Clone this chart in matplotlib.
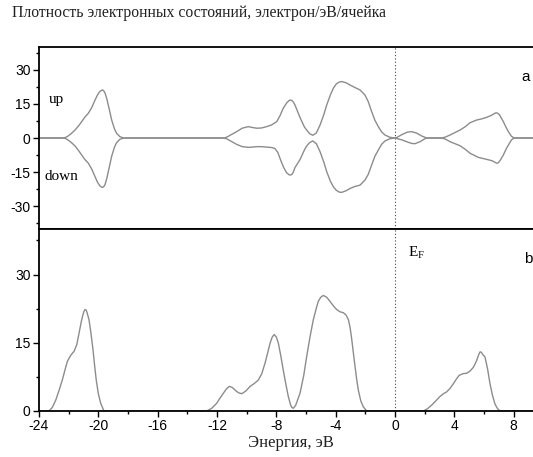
import matplotlib
matplotlib.use("Agg")
import matplotlib.pyplot as plt
from matplotlib.ticker import MultipleLocator

# ---- data ----
# panel a: spin-up DOS
up_e = [-24, -22.3, -22.1, -21.85, -21.57, -21.3, -21.12, -20.9, -20.67, -20.45, -20.22, -20.05,
        -19.9, -19.8, -19.73, -19.65, -19.55, -19.43, -19.25,
        -19.1, -18.9, -18.76, -18.55, -18.3, -11.5, -11.3, -10.95, -10.67, -10.3, -9.89, -9.6, -9.32,
        -9.0, -8.65, -8.3, -7.97, -7.75, -7.53, -7.3, -7.15, -7.07, -6.95, -6.85, -6.74, -6.4, -6.1,
        -5.95, -5.75, -5.54, -5.3, -5.05, -4.8, -4.6, -4.35, -4.15, -3.95, -3.75, -3.59, -3.3,
        -3.03, -2.7, -2.35, -2.02, -1.8, -1.57, -1.35, -1.12, -0.9, -0.67, -0.33, 0.0, 0.12, 0.5,
        0.85, 1.13, 1.45, 1.8, 2.14, 3.15, 3.4, 3.71, 4.05, 4.39, 4.75, 5.06, 5.51, 5.85, 6.19,
        6.55, 6.72, 6.82, 6.92, 7.05, 7.31, 7.5, 7.65, 7.85, 8.03, 9.4]
up_v = [0, 0, 0.6, 1.8, 3.5, 5.6, 7.2, 9.2, 10.9, 13.3, 16.7, 19.0,
        20.4, 20.9, 21.1, 20.9, 19.8, 17.3, 12.3,
        7.9, 3.8, 2.0, 0.6, 0, 0, 0.5, 1.8, 2.8, 4.3, 5.0, 4.6, 4.3,
        4.4, 5.0, 5.8, 7.2, 9.8, 13.1, 15.4, 16.4, 16.7, 16.5, 15.8, 14.5, 9.0, 4.8,
        3.5, 1.9, 1.2, 2.2, 5.7, 10.2, 14.5, 19.0, 21.9, 23.8, 24.6, 24.8, 24.3,
        23.3, 22.2, 21.1, 18.9, 16.0, 11.6, 7.8, 5.0, 2.7, 1.3, 0.3, 0.0, 0.2, 1.6,
        2.6, 2.8, 2.2, 0.9, 0.0, 0.0, 0.4, 1.3, 2.4, 3.5, 5.0, 6.7, 7.9, 8.4, 9.1,
        10.1, 10.8, 11.1, 10.9, 10.2, 7.2, 4.6, 2.8, 0.8, 0.0, 0.0]

# panel a: spin-down DOS (negative)
dn_e = [-24, -22.3, -22.1, -21.85, -21.57, -21.3, -21.12, -20.9, -20.67, -20.45, -20.22, -20.05,
        -19.9, -19.8, -19.73, -19.65, -19.55, -19.43, -19.25,
        -19.1, -18.9, -18.76, -18.55, -18.3, -11.5, -11.3, -10.95, -10.67, -10.3, -9.89, -9.6, -9.32,
        -9.0, -8.65, -8.3, -8.1, -7.9, -7.7, -7.5, -7.3, -7.15, -7.07, -6.95, -6.85, -6.74, -6.4,
        -6.1, -5.95, -5.75, -5.54, -5.3, -5.05, -4.8, -4.6, -4.35, -4.15, -3.95, -3.75, -3.59,
        -3.3, -3.03, -2.7, -2.35, -2.02, -1.8, -1.57, -1.35, -1.12, -0.9, -0.67, -0.33, 0.0, 0.12,
        0.5, 0.9, 1.15, 1.35, 1.7, 2.0, 2.14, 3.15, 3.4, 3.71, 4.05, 4.39, 4.75, 5.06, 5.62, 6.19,
        6.55, 6.75, 6.86, 6.97, 7.08, 7.31, 7.5, 7.65, 7.85, 8.03, 9.4]
dn_v = [0, 0, -0.6, -1.8, -3.5, -5.8, -7.5, -9.5, -11.1, -13.6, -17.0, -19.5,
        -21.0, -21.5, -21.7, -21.5, -20.5, -17.8, -12.5,
        -8.0, -3.8, -2.0, -0.6, 0, 0, -0.5, -1.8, -2.8, -3.8, -4.1, -4.0, -3.8,
        -3.8, -4.0, -4.2, -4.6, -6.3, -9.8, -13.0, -15.3, -16.1, -16.3, -16.0, -15.0, -13.0, -9.5,
        -5.2, -3.5, -2.0, -1.3, -2.5, -6.0, -10.5, -14.8, -19.0, -21.5, -23.0, -23.8, -23.9,
        -23.2, -22.2, -21.3, -20.7, -18.5, -16.0, -11.9, -8.0, -5.3, -2.8, -1.3, -0.3, 0.0, -0.2,
        -0.9, -1.9, -2.4, -2.5, -1.6, -0.4, 0.0, 0.0, -0.5, -1.6, -2.5, -3.4, -5.0, -6.7, -8.5, -9.4,
        -10.0, -10.7, -11.1, -10.9, -10.0, -7.5, -4.8, -3.1, -0.9, 0.0, 0.0]

# panel b: total DOS
tot_e = [-24, -23.33, -23.1, -22.87, -22.65, -22.43, -22.25, -22.09, -21.85, -21.64, -21.45,
         -21.3, -21.15, -21.05, -20.98, -20.9, -20.82, -20.75, -20.63, -20.5,
         -20.36, -20.25, -20.14, -20.0, -19.84, -19.62, -12.69, -12.35, -12.02, -11.8, -11.57,
         -11.35, -11.17, -10.98, -10.78, -10.55, -10.33, -10.05, -9.77, -9.5, -9.21, -8.98,
         -8.76, -8.58, -8.42, -8.28, -8.15, -8.0, -7.86, -7.7, -7.53, -7.35, -7.19, -7.05, -6.96,
         -6.85, -6.7, -6.4, -6.15, -5.95, -5.72, -5.5, -5.3, -5.17, -5.0, -4.83, -4.6, -4.38,
         -4.15, -3.93, -3.7, -3.48, -3.3, -3.14, -3.02, -2.91, -2.8, -2.69, -2.58, -2.47, -2.3,
         -2.13, -1.9, 1.91, 2.2, 2.48, 2.75, 3.04, 3.27, 3.49, 3.72, 3.94, 4.12, 4.32, 4.58, 4.84,
         5.07, 5.29, 5.5, 5.65, 5.74, 5.83, 5.95, 6.07, 6.25, 6.41, 6.58, 6.75, 6.92, 7.09, 9.4]
tot_v = [0, 0, 0.8, 2.4, 4.5, 6.8, 9.0, 10.9, 12.3, 13.1, 14.6,
         17.1, 19.6, 21.0, 21.8, 22.3, 22.2, 21.5, 20.1, 17.2,
         13.5, 10.0, 6.8, 3.8, 1.7, 0, 0, 0.6, 1.7, 2.8, 3.9,
         4.9, 5.4, 5.2, 4.6, 4.0, 3.8, 4.4, 5.4, 6.0, 6.8, 8.2,
         10.5, 12.8, 14.9, 16.2, 16.8, 16.3, 14.9, 12.2, 9.0, 5.8, 3.2, 1.5, 0.8,
         0.6, 1.2, 3.9, 7.8, 12.0, 16.4, 20.1, 22.6, 24.1, 25.0, 25.4, 25.0, 24.1,
         23.1, 22.3, 21.8, 21.6, 21.1, 20.1, 18.3, 15.7, 12.7, 9.8, 7.0, 4.6, 2.2,
         0.9, 0, 0, 0.5, 1.3, 2.2, 3.2, 3.8, 4.2, 5.0, 6.0, 6.9, 7.8, 8.2, 8.3,
         8.8, 9.6, 11.0, 12.4, 13.0, 12.9, 12.3, 11.9, 9.2, 6.0, 3.4, 1.5, 0.5, 0, 0]

xticks = [-24, -20, -16, -12, -8, -4, 0, 4, 8]
yticks_a = [-30, -15, 0, 15, 30]
yticks_b = [0, 15, 30]

# ---- figure ----
W, H = 533, 457
fig = plt.figure(figsize=(W / 100, H / 100), dpi=100)
left = 39 / W
ax_a = fig.add_axes([left, 1 - 229 / H, 1 - left, 182 / H])
ax_b = fig.add_axes([left, 1 - 411 / H, 1 - left, 182 / H])

curve_col = "#8c8c8c"
sans = "Liberation Sans"
serif = "Liberation Serif"
tick_fs = 10

for ax in (ax_a, ax_b):
    ax.set_xlim(-24, 9.31)
    ax.spines["right"].set_visible(False)
    for s in ("left", "top", "bottom"):
        ax.spines[s].set_linewidth(1.3)
    ax.axvline(0, color="#444444", lw=0.8, ls=(0, (1, 2)))
    ax.yaxis.set_minor_locator(MultipleLocator(7.5))
    ax.tick_params(axis="y", which="major", direction="out", length=4, width=1,
                   pad=2)
    ax.tick_params(axis="y", which="minor", direction="out", length=2.5, width=1)

ax_a.plot(up_e, up_v, color=curve_col, lw=1.0)
ax_a.plot(dn_e, dn_v, color=curve_col, lw=1.0)
ax_a.set_ylim(-40, 40)
ax_a.set_yticks(yticks_a)
ax_a.set_yticklabels([str(t) for t in yticks_a], fontfamily=sans, fontsize=tick_fs)
ax_a.set_xticks([])
ax_a.tick_params(axis="x", which="both", bottom=False, labelbottom=False)

ax_b.plot(tot_e, tot_v, color=curve_col, lw=1.0)
ax_b.set_ylim(0, 40)
ax_b.set_yticks(yticks_b)
ax_b.set_yticklabels([str(t) for t in yticks_b], fontfamily=sans, fontsize=tick_fs)
ax_b.set_xticks(xticks)
ax_b.set_xticklabels([str(t) for t in xticks], fontfamily=sans, fontsize=tick_fs)
ax_b.xaxis.set_minor_locator(MultipleLocator(2))
ax_b.tick_params(axis="x", which="major", direction="out", length=4, width=1, pad=2)
ax_b.tick_params(axis="x", which="minor", direction="out", length=2.5, width=1)

# texts
fig.text(12 / W, 1 - 13 / H, "Плотность электронных состояний, электрон/эВ/ячейка",
         fontfamily=serif, fontsize=11.3, ha="left", va="center", color="#222222")
fig.text(291 / W, 1 - 443 / H, "Энергия, эВ", fontfamily=serif, fontsize=12,
         ha="center", va="center", color="#222222")
fig.text(56 / W, 1 - 99 / H, "up", fontfamily=serif, fontsize=11,
         ha="center", va="center")
fig.text(61 / W, 1 - 177 / H, "down", fontfamily=serif, fontsize=11,
         ha="center", va="center")
fig.text(526 / W, 1 - 77 / H, "a", fontfamily=sans, fontsize=11,
         ha="center", va="center")
fig.text(528 / W, 1 - 259 / H, "b", fontfamily=sans, fontsize=11,
         ha="center", va="center")
fig.text(417 / W, 1 - 253 / H, r"E$_{\mathregular{F}}$", fontfamily=serif, fontsize=11,
         ha="center", va="center")

fig.savefig("out.png", dpi=100)
